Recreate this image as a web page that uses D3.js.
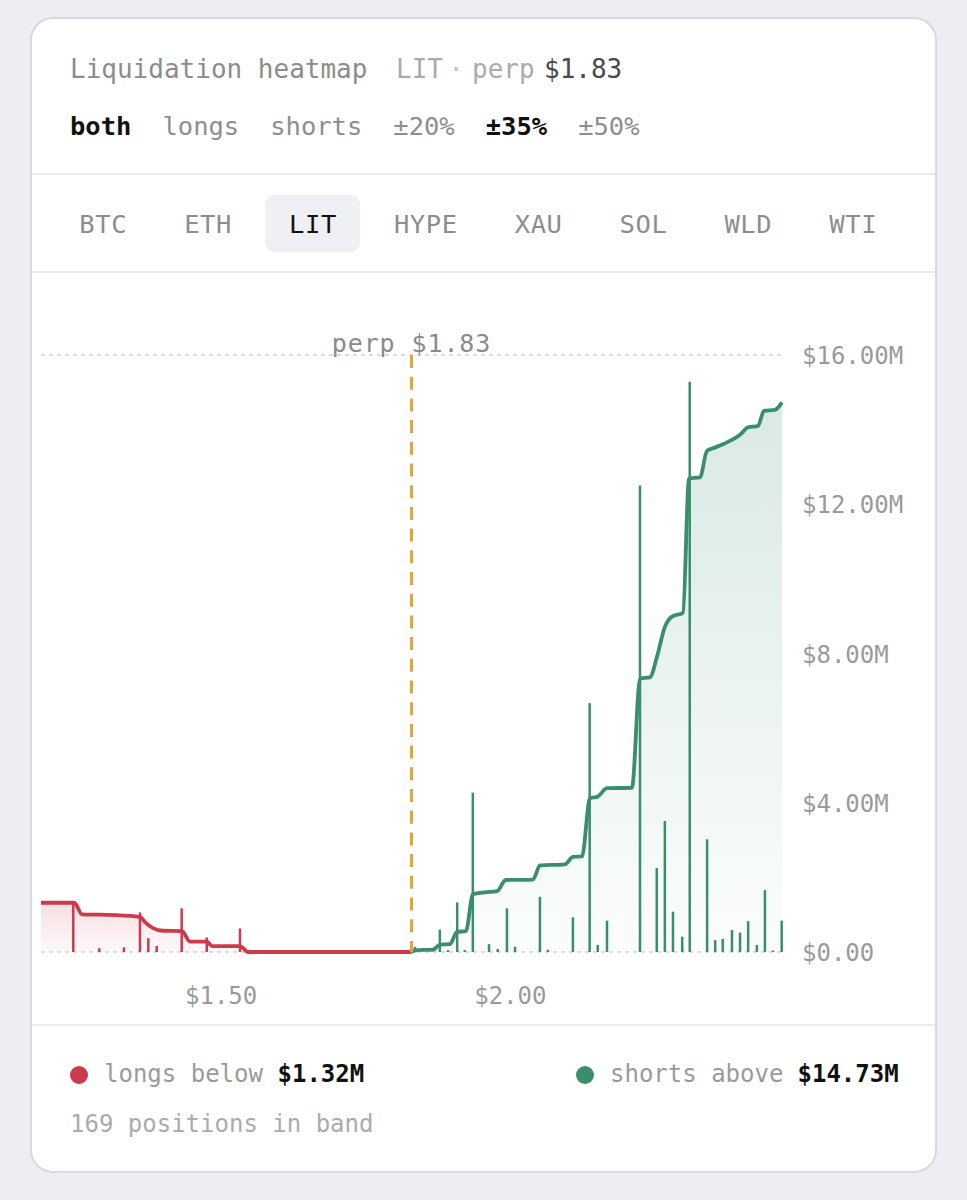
<!DOCTYPE html>
<html><head><meta charset="utf-8">
<script src="https://cdn.jsdelivr.net/npm/d3@7"></script>
<style>
html,body{margin:0;padding:0;background:#eceef3;}
svg{display:block;}
</style></head><body>
<svg id="c" width="967" height="1200"></svg>
<script>
// ---------- DATA ----------
const symbol = "LIT";
const perpPrice = 1.83;
const bandPct = 0.35;
const sideOptions = ["both", "longs", "shorts"];
const rangeOptions = ["±20%", "±35%", "±50%"];
const assets = ["BTC", "ETH", "LIT", "HYPE", "XAU", "SOL", "WLD", "WTI"];
const yTicks = [0, 4, 8, 12, 16];          // $M
const xTicks = [1.5, 2.0];                  // price

// cumulative long liquidations below price ($M)
const longPrices = [1.1895,1.247,1.2604,1.2915,1.326,1.3606,1.3693,1.3831,1.4004,1.4332,1.4471,1.4764,1.4851,1.5335,1.5473,1.83];
const longCum    = [1.32,1.32,1.01,1.00,0.98,0.94,0.80,0.64,0.57,0.56,0.28,0.28,0.16,0.16,0,0];

// cumulative short liquidations above price ($M)
const shortPrices = [1.83,1.8325,1.8395,1.8671,1.8792,1.8965,1.9086,1.9241,1.9362,1.957,1.9777,1.9931,2.04,2.0521,2.0953,2.1091,2.1247,2.1385,2.1524,2.1679,2.2111,2.225,2.2422,2.2543,2.2682,2.2803,2.2993,2.3097,2.3287,2.3408,2.3512,2.3685,2.3979,2.4117,2.429,2.4393,2.4584,2.4705];
const shortCum    = [0,0.02,0.05,0.06,0.20,0.21,0.54,0.56,1.55,1.60,1.63,1.93,1.94,2.32,2.35,2.55,2.56,4.12,4.17,4.39,4.40,7.33,7.36,7.91,8.72,8.99,9.09,12.69,12.72,13.43,13.5,13.61,13.86,14.06,14.1,14.5,14.53,14.73];

// individual liquidation clusters ($M)
const longBarPrices = [1.2453,1.2903,1.333,1.3606,1.375,1.3895,1.4327,1.476,1.5335];
const longBarValues = [1.32,0.10,0.125,1.06,0.37,0.16,1.17,0.39,0.63];
const shortBarPrices = [1.836,1.879,1.893,1.909,1.922,1.936,1.964,1.979,1.995,2.009,2.052,2.066,2.109,2.138,2.152,2.168,2.225,2.254,2.268,2.282,2.298,2.311,2.341,2.355,2.368,2.384,2.398,2.412,2.427,2.441,2.455,2.470];
const shortBarValues = [0.14,0.60,0.05,1.33,0.05,4.27,0.21,0.08,1.17,0.14,1.48,0.06,0.93,6.67,0.19,0.84,12.5,2.25,3.51,1.08,0.41,15.28,3.02,0.32,0.35,0.59,0.52,0.83,0.19,1.66,0.04,0.84];

const longsTotal = "$1.32M";
const shortsTotal = "$14.73M";
const positionsInBand = 169;

// ---------- STYLE ----------
const FONT = "'DejaVu Sans Mono', monospace";
const RED = "#cc3b4c", GREEN = "#3b8e6b", ORANGE = "#e2a53c";

const svg = d3.select("#c");
const defs = svg.append("defs");

// card
svg.append("rect").attr("x", 31).attr("y", 18).attr("width", 905).attr("height", 1154)
  .attr("rx", 22).attr("fill", "#fff").attr("stroke", "#d6d9df").attr("stroke-width", 2);

function txt(g, x, y, s, o = {}) {
  return g.append("text").attr("x", x).attr("y", y).text(s)
    .attr("font-family", FONT).attr("font-size", o.size || 24)
    .attr("letter-spacing", o.ls != null ? o.ls : 0)
    .attr("font-weight", o.weight || "normal")
    .attr("fill", o.color || "#8a8a8a")
    .attr("text-anchor", o.anchor || "start");
}

// header
txt(svg, 70, 78, "Liquidation heatmap", {size: 26, color: "#8c8c8c"});
txt(svg, 396, 78, symbol, {size: 26, color: "#ababab"});
txt(svg, 456, 78, "·", {size: 26, color: "#c4c4c4", anchor: "middle"});
txt(svg, 472, 78, "perp", {size: 26, color: "#ababab"});
txt(svg, 544, 78, "$" + perpPrice.toFixed(2), {size: 26, color: "#4a4a4a"});

// options row
let ox = 70;
const opts = sideOptions.concat(rangeOptions);
opts.forEach(s => {
  const active = s === "both" || s === "±" + Math.round(bandPct * 100) + "%";
  const t = txt(svg, ox, 135, s, {size: 25.5, color: active ? "#111" : "#8e8e8e", weight: active ? "bold" : "normal"});
  ox += t.node().getComputedTextLength() + 2 * 15.5;
});

// separators
[174, 272, 1025].forEach(y => svg.append("line").attr("x1", 32).attr("x2", 935)
  .attr("y1", y).attr("y2", y).attr("stroke", "#e3e5e9").attr("stroke-width", 1.5));

// tabs
let tx = 55.5;
assets.forEach(a => {
  const g = svg.append("g");
  const t = txt(g, 0, 233, a, {size: 25.5, ls: 0.6, color: a === symbol ? "#111" : "#8d8d8d", anchor: "middle"});
  const w = t.node().getComputedTextLength() + 47;
  if (a === symbol) {
    g.insert("rect", "text").attr("x", tx).attr("y", 195).attr("width", w).attr("height", 57)
      .attr("rx", 9).attr("fill", "#eef0f3");
  }
  t.attr("x", tx + w / 2 + 0.3);
  tx += w + 10;
});

// ---------- CHART ----------
const x = d3.scaleLinear().domain([perpPrice * (1 - bandPct), perpPrice * (1 + bandPct)]).range([41, 782]);
const y = d3.scaleLinear().domain([0, 16]).range([952, 355]);

const gradR = defs.append("linearGradient").attr("id", "gr").attr("gradientUnits", "userSpaceOnUse")
  .attr("x1", 0).attr("x2", 0).attr("y1", y(d3.max(longCum))).attr("y2", y(0));
gradR.append("stop").attr("offset", 0).attr("stop-color", RED).attr("stop-opacity", 0.16);
gradR.append("stop").attr("offset", 1).attr("stop-color", RED).attr("stop-opacity", 0.03);
const gradG = defs.append("linearGradient").attr("id", "gg").attr("gradientUnits", "userSpaceOnUse")
  .attr("x1", 0).attr("x2", 0).attr("y1", y(d3.max(shortCum))).attr("y2", y(0));
gradG.append("stop").attr("offset", 0).attr("stop-color", GREEN).attr("stop-opacity", 0.19);
gradG.append("stop").attr("offset", 1).attr("stop-color", GREEN).attr("stop-opacity", 0.02);

const longPts = longPrices.map((p, i) => [p, longCum[i]]);
const shortPts = shortPrices.map((p, i) => [p, shortCum[i]]);

const area = d3.area().x(d => x(d[0])).y0(y(0)).y1(d => y(d[1])).curve(d3.curveMonotoneX);
const line = d3.line().x(d => x(d[0])).y(d => y(d[1])).curve(d3.curveMonotoneX);

svg.append("path").attr("d", area(longPts)).attr("fill", "url(#gr)");
svg.append("path").attr("d", area(shortPts)).attr("fill", "url(#gg)");

// gridlines (top and baseline)
[16, 0].forEach(v => svg.append("line").attr("x1", x.range()[0]).attr("x2", x.range()[1])
  .attr("y1", y(v)).attr("y2", y(v)).attr("stroke", "#cfd0d3").attr("stroke-width", 1.3)
  .attr("stroke-dasharray", "4 4"));

// bars
svg.append("g").selectAll("line").data(longBarPrices).join("line")
  .attr("x1", d => x(d)).attr("x2", d => x(d)).attr("y1", y(0))
  .attr("y2", (d, i) => y(longBarValues[i])).attr("stroke", RED).attr("stroke-width", 2.5);
svg.append("g").selectAll("line").data(shortBarPrices).join("line")
  .attr("x1", d => x(d)).attr("x2", d => x(d)).attr("y1", y(0))
  .attr("y2", (d, i) => y(shortBarValues[i])).attr("stroke", GREEN).attr("stroke-width", 2.5);

// lines
svg.append("path").attr("d", line(longPts)).attr("fill", "none").attr("stroke", RED)
  .attr("stroke-width", 3.8).attr("stroke-linejoin", "round");
svg.append("path").attr("d", line(shortPts)).attr("fill", "none").attr("stroke", GREEN)
  .attr("stroke-width", 3.8).attr("stroke-linejoin", "round");

// perp marker
svg.append("line").attr("x1", x(perpPrice)).attr("x2", x(perpPrice)).attr("y1", y(16)).attr("y2", y(0))
  .attr("stroke", ORANGE).attr("stroke-width", 3).attr("stroke-dasharray", "13 8.7");
txt(svg, x(perpPrice), 352, "perp $" + perpPrice.toFixed(2), {size: 25, ls: 0.9, color: "#8a8a8a", anchor: "middle"});

// y axis
const yAxis = svg.append("g").attr("transform", "translate(802,0)")
  .call(d3.axisRight(y).tickValues(yTicks).tickSize(0).tickPadding(0)
    .tickFormat(d => d === 0 ? "$0.00" : "$" + d.toFixed(2) + "M"));
yAxis.select(".domain").remove();
yAxis.selectAll("text").attr("font-family", FONT).attr("font-size", 24)
  .attr("fill", "#9a9a9a").attr("x", 0).attr("dy", "0.36em");

// x axis
const xAxis = svg.append("g")
  .call(d3.axisBottom(x).tickValues(xTicks).tickSize(0).tickPadding(0).tickFormat(d => "$" + d.toFixed(2)));
xAxis.select(".domain").remove();
xAxis.selectAll("text").attr("font-family", FONT).attr("font-size", 24)
  .attr("fill", "#9a9a9a").attr("y", 1004).attr("dy", null);

// ---------- LEGEND ----------
svg.append("circle").attr("cx", 79).attr("cy", 1075).attr("r", 9).attr("fill", RED);
txt(svg, 104, 1082, "longs below", {size: 24, color: "#9a9a9a"});
txt(svg, 277.5, 1082, longsTotal, {size: 24, color: "#111", weight: "bold"});
svg.append("circle").attr("cx", 585).attr("cy", 1075).attr("r", 9).attr("fill", GREEN);
txt(svg, 610, 1082, "shorts above", {size: 24, color: "#9a9a9a"});
txt(svg, 797.5, 1082, shortsTotal, {size: 24, color: "#111", weight: "bold"});
txt(svg, 70, 1132, positionsInBand + " positions in band", {size: 24, color: "#ababab"});
</script>
</body></html>
